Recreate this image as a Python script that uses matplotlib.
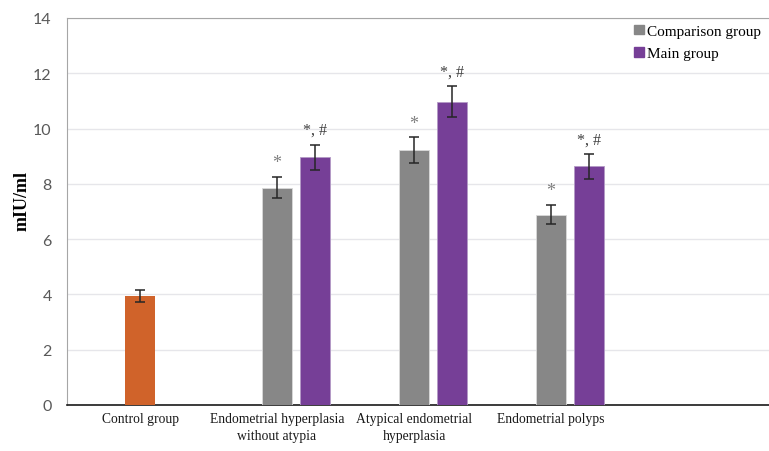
import matplotlib
matplotlib.use("Agg")
import matplotlib.pyplot as plt
from matplotlib.patches import Patch
import numpy as np

categories = ["Control group", "Endometrial hyperplasia\nwithout atypia",
              "Atypical endometrial\nhyperplasia", "Endometrial polyps"]
control_value = [3.94]
control_err = [0.22]
comparison_values = [7.86, 9.23, 6.89]
comparison_err = [0.39, 0.46, 0.36]
main_values = [8.96, 10.97, 8.63]
main_err = [0.45, 0.56, 0.44]
comparison_marks = ["*", "*", "*"]
main_marks = ["*, #", "*, #", "*, #"]
y_ticks = [0, 2, 4, 6, 8, 10, 12, 14]

c_orange = "#d0632a"
c_gray = "#878787"
c_purple = "#763f97"

fig = plt.figure(figsize=(7.69, 4.52), dpi=100)
ax = fig.add_axes([0.0871, 0.1018, 0.9129, 0.8562])

x = np.arange(len(categories))
w = 0.22
off = 0.277

ekw = dict(ecolor="#262626", elinewidth=1.1, capsize=3.5, capthick=1.1)
ax.bar(x[:1], control_value, w, color=c_orange, yerr=control_err,
       error_kw=ekw, zorder=3)
ax.bar(x[1:], comparison_values, w, color=c_gray, yerr=comparison_err,
       error_kw=ekw, zorder=3, edgecolor="#d9d9d9", linewidth=0.6)
ax.bar(x[1:] + off, main_values, w, color=c_purple, yerr=main_err,
       error_kw=ekw, zorder=3, edgecolor="#b39ac6", linewidth=0.6)

for xi, v, e, m in zip(x[1:], comparison_values, comparison_err, comparison_marks):
    ax.annotate(m, (xi, v + e), xytext=(0, 4), textcoords="offset points",
                ha="center", va="bottom", fontsize=13, color="#7f7f7f",
                family="Liberation Serif")
for xi, v, e, m in zip(x[1:] + off, main_values, main_err, main_marks):
    ax.annotate(m, (xi, v + e), xytext=(0, 5), textcoords="offset points",
                ha="center", va="bottom", fontsize=11.5, color="#404040",
                family="Liberation Serif")

ax.set_xlim(-0.533, 4.59)
ax.set_ylim(0, 14)
ax.set_yticks(y_ticks)
ax.set_xticks(x)
ax.set_xticklabels(categories, family="Liberation Serif", fontsize=9.8,
                   color="#1a1a1a", linespacing=1.45)
ax.tick_params(axis="x", length=0, pad=5)
ax.tick_params(axis="y", length=0, pad=11, labelsize=11.5, labelcolor="#595959")
for lab in ax.get_yticklabels():
    lab.set_family("Lato")

ax.grid(axis="y", color="#e6e6ea", linewidth=1.0, zorder=0)
ax.set_axisbelow(True)
ax.spines["right"].set_visible(False)
ax.spines["top"].set_color("#a6a6a6")
ax.spines["left"].set_color("#a6a6a6")
ax.spines["bottom"].set_color("#1a1a1a")
ax.spines["bottom"].set_linewidth(1.2)

fig.text(0.0286, 0.555, "mIU/ml", rotation=90, ha="center", va="center",
         fontsize=13, fontweight="bold", family="Liberation Serif")

handles = [Patch(color=c_gray, label="Comparison group"),
           Patch(color=c_purple, label="Main group")]
leg = ax.legend(handles=handles, loc="upper left",
                bbox_to_anchor=(0.817, 0.957), bbox_transform=fig.transFigure,
                frameon=False, prop={"family": "Liberation Serif", "size": 11},
                handlelength=0.6, handleheight=0.6, handletextpad=0.2,
                labelspacing=0.62, borderaxespad=0)

fig.savefig("out.png", dpi=100)
